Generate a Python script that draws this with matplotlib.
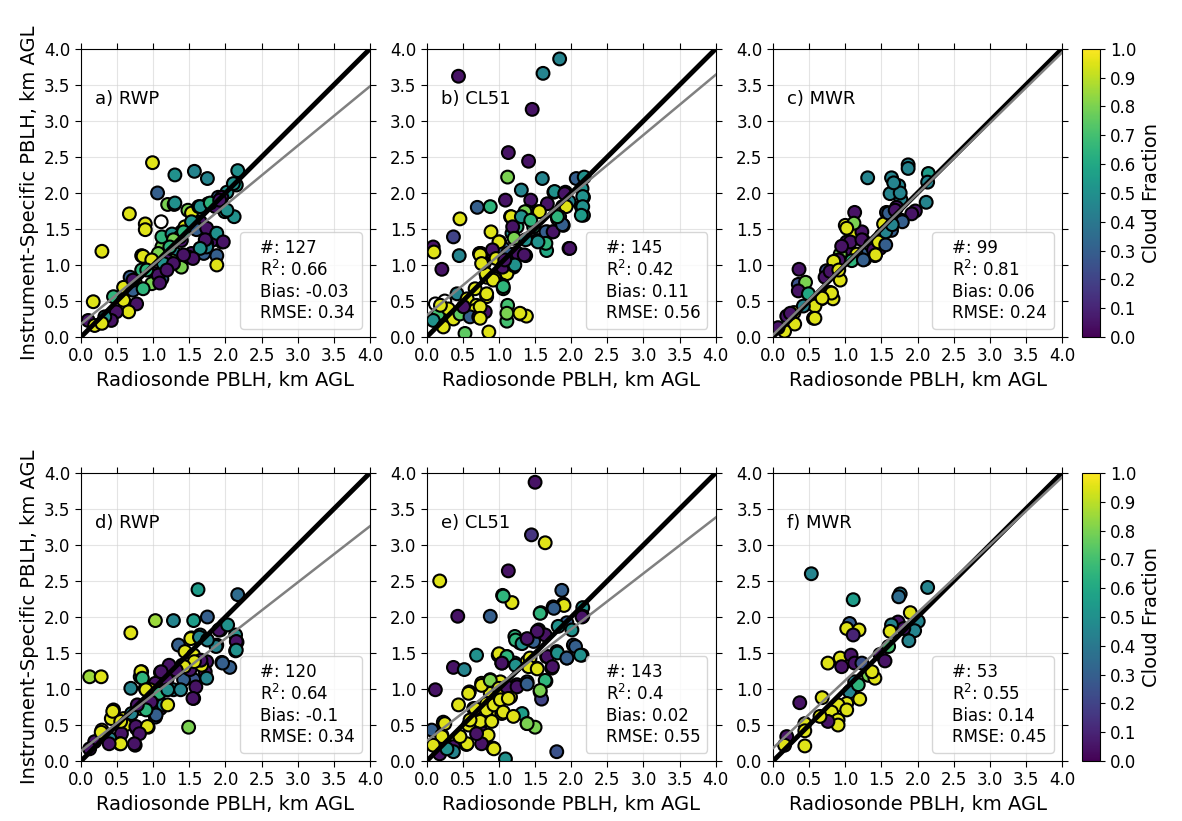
import numpy as np
import matplotlib
matplotlib.use("Agg")
import matplotlib.pyplot as plt
from matplotlib.lines import Line2D

# ---- data (x = radiosonde PBLH, y = instrument PBLH, cf = cloud fraction)
nan = np.nan

a_x = [0.99, 1.30, 1.57, 1.75, 2.17, 2.15, 1.06, 1.20, 1.29, 0.67, 0.89, 0.89, 1.11, 0.29, 1.48, 1.53,
       1.63, 1.76, 1.90, 2.02, 2.11, 2.12, 1.99, 1.86, 1.95, 1.65, 1.58, 1.86, 1.95, 1.81, 1.74, 1.88,
       1.88, 1.65, 1.53, 1.39, 1.27, 1.12, 1.05, 0.84, 1.30, 1.39, 1.44, 1.53, 0.91, 1.03, 1.16, 1.12,
       0.98, 0.84, 0.68, 0.75, 0.59, 0.72, 0.86, 0.45, 0.17, 0.59, 0.77, 0.66, 0.49, 0.42, 0.10, 0.19,
       0.33, 0.29, 1.26, 1.39, 1.49, 1.19, 1.70, 1.74, 1.12, 1.26,
       1.30, 1.65, 1.79, 1.92, 2.02, 1.60, 1.74, 1.88, 1.97, 1.72, 1.65, 1.55, 1.42, 1.37, 1.42, 1.28,
       1.23, 1.07, 0.86, 0.98, 1.14, 1.28, 1.07, 1.19, 0.91, 0.72, 1.09]
a_y = [2.42, 2.25, 2.30, 2.20, 2.31, 2.11, 2.00, 1.84, 1.84, 1.71, 1.57, 1.49, 1.60, 1.19, 1.76, 1.72,
       1.81, 1.85, 1.94, 2.01, 2.13, 1.67, 1.74, 1.81, 1.94, 1.60, 1.53, 1.44, 1.32, 1.34, 1.30, 1.13,
       1.00, 1.23, 1.16, 1.34, 1.37, 1.25, 1.11, 1.13, 1.16, 1.46, 1.53, 1.60, 0.97, 0.88, 0.93, 0.81,
       0.74, 0.93, 0.83, 0.76, 0.69, 0.65, 0.67, 0.56, 0.49, 0.51, 0.46, 0.35, 0.35, 0.23, 0.23, 0.16,
       0.28, 0.19, 1.06, 0.97, 1.11, 1.06, 1.16, 1.25, 1.39, 1.43,
       1.86, 1.81, 1.86, 1.90, 1.76, 1.49, 1.51, 1.44, 1.32, 1.35, 1.23, 1.09, 1.14, 1.39, 1.46, 1.35,
       1.25, 1.16, 1.12, 1.07, 1.02, 1.02, 0.86, 0.93, 0.93, 0.79, 0.75]
a_cf = [0.95, 0.50, 0.45, 0.45, 0.50, 0.55, 0.30, 0.80, 0.45, 0.95, 0.95, 0.95, nan, 0.95, 0.80, 0.95,
        0.45, 0.80, 0.30, 0.50, 0.50, 0.50, 0.50, 0.05, 0.05, 0.05, 0.30, 0.50, 0.05, 0.05, 0.05, 0.30,
        0.95, 0.45, 0.05, 0.05, 0.65, 0.80, 0.95, 0.95, 0.45, 0.65, 0.95, 0.50, 0.95, 0.05, 0.05, 0.30,
        0.80, 0.65, 0.30, 0.95, 0.95, 0.30, 0.65, 0.65, 0.95, 0.95, 0.05, 0.95, 0.05, 0.05, 0.05, 0.95,
        0.50, 0.95, 0.80, 0.80, 0.45, 0.05, 0.30, 0.45, 0.65, 0.50,
        0.50, 0.50, 0.65, 0.05, 0.50, 0.30, 0.05, 0.50, 0.05, 0.05, 0.50, 0.05, 0.05, 0.95, 0.65, 0.80,
        0.65, 0.80, 0.95, 0.95, 0.50, 0.05, 0.05, 0.05, 0.65, 0.05, 0.05]

b_x = [0.44, 1.84, 1.61, 1.46, 1.13, 1.41, 1.12, 1.60, 1.31, 1.09, 0.88, 0.70, 1.44, 0.46, 1.16, 1.55,
       1.67, 1.76, 1.92, 2.07, 2.18, 2.15, 2.17, 2.14, 2.17, 1.97, 1.88, 1.81, 1.89, 1.67, 1.74, 1.48,
       1.39, 1.25, 1.18, 0.37, 0.89, 1.01, 0.09, 0.10, 0.45, 0.73, 0.86, 0.80, 1.06, 1.23, 1.37, 1.53,
       1.63, 1.66, 1.97, 0.21, 1.06, 1.20, 0.97, 1.11, 0.83, 0.67, 1.06, 0.42, 0.56, 0.83, 0.69, 0.67,
       0.81, 1.12, 1.30, 1.38, 1.11, 0.53, 0.86, 0.12, 0.25, 0.16, 0.30, 0.37, 0.09, 0.23, 0.46, 0.60,
       0.51, 0.72, 0.19,
       1.77, 1.91, 2.16, 2.16, 2.14, 1.93, 1.84, 1.56, 1.36, 1.17, 1.31, 1.19, 1.65, 1.75, 1.88, 1.81,
       1.44, 1.00, 1.21, 1.37, 1.65, 1.54, 1.98, 0.75, 0.91, 1.12, 1.26, 1.35, 0.77, 0.96, 1.05, 1.21,
       0.94, 1.05, 0.82, 0.74, 0.76, 0.92, 1.06, 0.83, 0.74, 0.74, 1.11, 1.29, 1.22, 1.08]
b_y = [3.62, 3.86, 3.66, 3.16, 2.56, 2.44, 2.22, 2.20, 2.04, 1.90, 1.81, 1.80, 1.90, 1.64, 1.67, 1.74,
       1.85, 2.01, 2.01, 2.20, 2.22, 2.06, 1.94, 1.81, 1.69, 1.88, 1.81, 1.64, 1.55, 1.46, 1.46, 1.53,
       1.74, 1.53, 1.44, 1.39, 1.46, 1.32, 1.25, 1.18, 1.13, 1.16, 1.13, 1.03, 1.23, 1.16, 1.13, 1.34,
       1.32, 1.20, 1.23, 0.94, 0.95, 0.97, 0.81, 0.88, 0.83, 0.67, 0.67, 0.60, 0.53, 0.56, 0.44, 0.37,
       0.35, 0.44, 0.32, 0.29, 0.22, 0.05, 0.07, 0.46, 0.50, 0.32, 0.39, 0.25, 0.23, 0.14, 0.32, 0.28,
       0.42, 0.28, 0.44,
       2.02, 1.99, 1.95, 1.81, 1.69, 1.81, 1.67, 1.74, 1.74, 1.67, 1.67, 1.53, 1.46, 1.46, 1.56, 1.67,
       1.62, 1.32, 1.37, 1.35, 1.30, 1.32, 1.23, 1.16, 1.21, 1.16, 1.16, 1.14, 1.04, 1.09, 0.97, 0.99,
       0.81, 0.72, 0.88, 1.14, 1.02, 0.79, 0.70, 0.60, 0.42, 0.26, 0.33, 0.33, 1.00, 1.07]
b_cf = [0.05, 0.45, 0.45, 0.05, 0.05, 0.05, 0.80, 0.45, 0.45, 0.05, 0.65, 0.30, 0.05, 0.95, 0.95, 0.95,
        0.05, 0.45, 0.05, 0.30, 0.50, 0.50, 0.50, 0.55, 0.60, 0.45, 0.95, 0.50, 0.30, 0.30, 0.05, 0.65,
        0.65, 0.65, 0.50, 0.20, 0.95, 0.95, 0.05, 0.95, 0.45, 0.95, 0.05, 0.95, 0.30, 0.05, 0.05, 0.30,
        0.45, 0.60, 0.05, 0.05, 0.05, 0.50, 0.95, 0.95, 0.95, 0.95, 0.70, 0.45, 0.95, 0.95, 0.95, 0.95,
        0.05, 0.70, 0.95, 0.95, 0.70, 0.75, 0.95, nan, nan, 0.70, 0.95, 0.95, 0.50, 0.95, 0.75, 0.30,
        0.05, 0.05, 0.95,
        0.50, 0.05, 0.50, 0.50, 0.55, 0.95, 0.45, 0.95, 0.80, 0.95, 0.50, 0.05, 0.30, 0.05, 0.30, 0.65,
        0.65, 0.95, 0.80, 0.50, 0.65, 0.50, 0.05, 0.95, 0.05, 0.30, 0.05, 0.05, 0.95, 0.95, 0.05, 0.50,
        0.95, 0.65, 0.95, 0.95, 0.95, 0.95, 0.65, 0.95, 0.95, 0.95, 0.80, 0.95, 0.50, 0.05]

c_x = [1.87, 1.87, 2.15, 2.14, 1.31, 1.64, 1.74, 1.62, 1.77, 2.12, 1.97, 1.92, 1.71, 1.13, 1.57, 1.69,
       1.78, 1.53, 1.64, 1.00, 1.11, 1.10, 1.23, 1.02, 1.25, 1.04, 1.16, 1.37, 1.41, 1.27, 1.41, 1.48,
       0.93, 0.88, 0.74, 0.83, 0.88, 0.72, 0.93, 0.79, 0.83, 0.67, 0.58, 0.56, 0.36, 0.35, 0.45, 0.35,
       0.49, 0.29, 0.19, 0.30, 0.16, 0.07, 0.42, 1.09, 1.50, 1.32,
       1.12, 1.02, 1.07, 0.95, 1.23, 1.35, 1.39, 1.46, 1.56, 1.42, 1.25, 0.91, 0.84, 0.79, 0.91, 0.81,
       0.68, 0.24, 1.60, 1.69, 1.79, 1.56, 1.65, 1.76, 1.67, 0.58]
c_y = [2.39, 2.34, 2.27, 2.15, 2.21, 2.21, 2.10, 1.99, 1.91, 1.87, 1.75, 1.71, 1.80, 1.73, 1.73, 1.60,
       1.62, 1.57, 1.48, 1.55, 1.55, 1.44, 1.46, 1.32, 1.34, 1.22, 1.15, 1.25, 1.29, 1.08, 1.13, 1.23,
       1.15, 1.06, 0.92, 0.92, 0.99, 0.83, 0.79, 0.62, 0.53, 0.53, 0.43, 0.26, 0.94, 0.73, 0.76, 0.64,
       0.60, 0.34, 0.29, 0.18, 0.08, 0.13, 0.43, 1.06, 1.41, 1.20,
       1.58, 1.51, 1.32, 1.26, 1.35, 1.28, 1.21, 1.32, 1.28, 1.14, 1.07, 1.07, 1.05, 0.91, 0.93, 0.61,
       0.54, 0.33, 1.72, 1.76, 1.60, 1.46, 1.56, 2.00, 2.14, 0.26]
c_cf = [0.45, 0.45, 0.55, 0.45, 0.45, 0.45, 0.45, 0.45, 0.45, 0.45, 0.05, 0.05, 0.05, 0.05, 0.30, 0.30,
        0.30, 0.95, 0.30, 0.95, 0.80, 0.95, 0.05, 0.05, 0.05, 0.05, 0.95, 0.30, 0.80, 0.25, 0.95, 0.05,
        0.80, 0.95, 0.25, 0.95, 0.05, 0.05, 0.95, 0.95, 0.95, 0.95, 0.95, 0.95, 0.05, 0.25, 0.80, 0.05,
        0.60, 0.95, 0.05, 0.95, 0.95, 0.05, 0.45, 0.65, 0.65, 0.30,
        0.80, 0.95, 0.05, 0.05, 0.05, 0.30, 0.05, 0.95, 0.30, 0.95, 0.30, 0.05, 0.95, 0.05, 0.95, 0.95,
        0.95, 0.05, 0.30, 0.05, 0.30, 0.45, 0.45, 0.45, 0.45, 0.95]

d_x = [1.62, 2.17, 1.03, 1.28, 1.56, 1.75, 0.69, 0.12, 0.28, 1.99, 1.93, 2.14, 2.16, 2.14, 1.95, 2.06,
       1.88, 1.65, 1.53, 1.35, 1.44, 1.56, 1.74, 1.72, 1.74, 1.56, 1.42, 1.28, 1.23, 1.40, 1.51, 1.10,
       0.84, 0.82, 1.03, 0.89, 0.69, 1.10, 1.56, 0.93, 0.82, 1.00, 1.10, 1.03, 1.14, 0.45, 0.42, 0.59,
       0.70, 0.61, 0.56, 0.77, 0.93, 0.29, 0.40, 0.54, 0.75, 0.19, 0.12, 1.49, 0.96, 1.19, 1.67,
       1.52, 1.64, 1.91, 2.03, 2.15, 2.15, 1.96, 1.87, 1.75, 1.66, 1.57, 1.43, 1.32, 1.22, 1.11, 0.83,
       0.85, 0.90, 1.08, 1.20, 1.38, 1.59, 1.55, 0.97, 1.04, 1.20, 0.90, 0.78, 0.44, 0.55, 0.76, 0.92,
       0.81, 0.74, 0.55, 0.39, 0.28]
d_y = [2.38, 2.31, 1.95, 1.95, 1.95, 2.00, 1.78, 1.17, 1.17, 1.89, 1.82, 1.75, 1.65, 1.53, 1.37, 1.30,
       1.61, 1.75, 1.71, 1.61, 1.52, 1.47, 1.38, 1.24, 1.15, 1.13, 1.13, 0.99, 1.29, 1.33, 1.27, 1.23,
       1.24, 1.17, 1.08, 1.01, 1.01, 0.96, 0.87, 0.82, 0.73, 0.71, 0.73, 0.61, 0.78, 0.71, 0.59, 0.59,
       0.66, 0.50, 0.38, 0.45, 0.47, 0.43, 0.31, 0.24, 0.22, 0.27, 0.17, 0.47, 0.99, 1.13, 1.33,
       1.70, 1.72, 1.82, 1.89, 1.66, 1.54, 1.36, 1.59, 1.68, 1.40, 1.38, 1.31, 1.26, 1.33, 1.24, 1.24,
       1.15, 0.99, 0.94, 0.99, 0.99, 1.03, 0.87, 0.82, 0.64, 0.78, 0.71, 0.78, 0.69, 0.55, 0.48, 0.48,
       0.38, 0.24, 0.24, 0.24, 0.40]
d_cf = [0.55, 0.35, 0.85, 0.45, 0.55, 0.30, 0.95, 0.85, 0.95, 0.50, 0.05, 0.50, 0.10, 0.50, 0.30, 0.30,
        0.45, 0.45, 0.80, 0.30, 0.95, 0.95, 0.05, 0.05, 0.45, 0.25, 0.30, 0.45, 0.05, 0.95, 0.05, 0.05,
        0.95, 0.80, 0.05, 0.95, 0.45, 0.65, 0.05, 0.05, 0.95, 0.65, 0.05, 0.30, 0.45, 0.95, 0.95, 0.95,
        0.45, 0.95, 0.05, 0.05, 0.95, 0.95, 0.45, 0.95, 0.05, 0.05, 0.05, 0.80, 0.95, 0.05, 0.95,
        0.95, 0.45, 0.05, 0.50, 0.05, 0.50, 0.30, 0.45, 0.45, 0.05, 0.95, 0.95, 0.05, 0.05, 0.05, 0.95,
        0.65, 0.95, 0.65, 0.50, 0.45, 0.05, 0.05, 0.05, 0.30, 0.95, 0.65, 0.05, 0.95, 0.95, 0.05, 0.95,
        0.05, 0.05, 0.95, 0.05, 0.95]

e_x = [1.50, 1.45, 1.64, 0.18, 1.13, 1.05, 1.18, 1.87, 1.89, 1.75, 1.58, 2.16, 0.43, 0.88, 2.16, 1.94,
       1.82, 2.01, 1.55, 1.22, 1.29, 1.48, 1.64, 2.03, 2.15, 1.94, 1.80, 1.66, 1.73, 0.69, 0.99, 1.11,
       1.04, 1.22, 1.39, 1.43, 1.52, 0.37, 0.52, 0.88, 0.76, 1.02, 1.25, 1.39, 1.65, 1.57, 1.59, 0.12,
       0.59, 0.88, 1.09, 1.16, 0.44, 0.65, 0.83, 0.95, 1.04, 1.32, 1.39, 1.50, 0.72, 0.58, 0.76, 0.23,
       0.07, 0.21, 0.46, 0.76, 0.85, 0.76, 0.92, 0.37, 0.55, 0.12, 0.18, 0.37, 1.09, 1.80, 0.28,
       1.06, 1.90, 1.76, 1.57, 2.15, 1.53, 1.23, 1.32, 1.39, 1.00, 1.11, 1.04, 1.23, 1.41, 1.53, 1.67,
       1.74, 1.81, 1.94, 2.06, 2.13, 0.58, 0.76, 0.88, 1.00, 1.11, 1.25, 1.39, 1.64, 1.57, 0.67, 0.83,
       0.93, 1.02, 1.13, 1.06, 1.20, 1.39, 0.74, 0.90, 0.60, 0.25, 0.69, 0.93, 0.56, 0.46, 0.21, 0.09]
e_y = [3.87, 3.14, 3.03, 2.50, 2.64, 2.30, 2.20, 2.37, 2.18, 2.14, 2.06, 2.13, 2.01, 2.01, 2.01, 1.92,
       1.87, 1.82, 1.82, 1.73, 1.64, 1.66, 1.75, 1.61, 1.47, 1.43, 1.52, 1.45, 1.29, 1.47, 1.47, 1.45,
       1.36, 1.36, 1.38, 1.43, 1.29, 1.30, 1.27, 1.13, 1.08, 1.10, 1.06, 1.10, 1.11, 0.96, 0.86, 0.99,
       0.96, 0.94, 0.96, 0.89, 0.78, 0.73, 0.80, 0.71, 0.66, 0.66, 0.52, 0.47, 0.61, 0.50, 0.54, 0.54,
       0.43, 0.36, 0.33, 0.40, 0.36, 0.24, 0.18, 0.20, 0.23, 0.22, 0.10, 0.13, 0.03, 0.13, 0.17,
       2.29, 2.16, 2.12, 2.05, 2.00, 1.80, 1.68, 1.63, 1.70, 1.49, 1.45, 1.36, 1.33, 1.31, 1.28, 1.45,
       1.31, 1.50, 1.43, 1.59, 1.47, 0.94, 1.05, 1.12, 1.01, 1.03, 1.03, 1.07, 1.12, 0.98, 0.73, 0.71,
       0.78, 0.85, 0.87, 0.68, 0.62, 0.52, 0.55, 0.55, 0.57, 0.52, 0.38, 0.17, 0.24, 0.34, 0.34, 0.22]
e_cf = [0.05, 0.15, 0.95, 0.95, 0.05, 0.65, 0.95, 0.30, 0.95, 0.30, 0.65, 0.50, 0.05, 0.30, 0.10, 0.30,
        0.50, 0.50, 0.05, 0.65, 0.50, 0.30, 0.05, 0.30, 0.50, 0.30, 0.50, 0.05, 0.50, 0.50, 0.95, 0.65,
        0.05, 0.50, 0.95, 0.95, 0.95, 0.05, 0.45, 0.80, 0.95, 0.95, 0.05, 0.30, 0.65, 0.95, 0.20, 0.05,
        0.95, 0.95, 0.95, 0.95, 0.95, 0.95, 0.95, 0.95, 0.95, 0.55, 0.65, 0.80, 0.95, 0.95, 0.95, 0.50,
        0.30, 0.95, 0.95, 0.05, 0.95, 0.05, 0.95, 0.05, 0.95, 0.95, 0.05, 0.45, 0.50, 0.25, 0.50,
        0.65, 0.95, 0.30, 0.65, 0.05, 0.05, 0.65, 0.50, 0.05, 0.95, 0.65, 0.05, 0.50, 0.95, 0.95, 0.05,
        0.05, 0.50, 0.30, 0.30, 0.50, 0.95, 0.95, 0.80, 0.95, 0.05, 0.05, 0.30, 0.65, 0.80, 0.95, 0.95,
        0.95, 0.95, 0.95, 0.95, 0.95, 0.80, 0.95, 0.95, 0.95, 0.95, 0.05, 0.95, 0.95, 0.95, 0.95, 0.95]

f_x = [0.53, 2.14, 1.76, 1.74, 1.11, 1.06, 1.02, 1.19, 1.11, 1.90, 1.73, 1.64, 1.62, 2.01, 1.96, 1.88,
       1.81, 0.76, 0.93, 0.95, 1.08, 1.13, 1.23, 1.48, 1.55, 1.60, 1.32, 1.41, 1.37, 1.13, 1.06, 1.20,
       1.02, 0.90, 0.68, 0.37, 0.81, 0.90, 0.90, 0.76, 0.65, 0.44, 0.44, 0.44, 0.19, 0.16, 1.02, 1.18]
f_y = [2.60, 2.41, 2.32, 2.28, 2.24, 1.91, 1.84, 1.82, 1.75, 2.06, 1.93, 1.89, 1.80, 1.94, 1.81, 1.67,
       1.84, 1.36, 1.43, 1.31, 1.47, 1.36, 1.36, 1.48, 1.39, 1.59, 1.19, 1.15, 1.24, 1.10, 0.96, 0.86,
       0.80, 0.78, 0.88, 0.81, 0.68, 0.57, 0.50, 0.55, 0.62, 0.52, 0.42, 0.21, 0.34, 0.22, 0.71, 1.06]
f_cf = [0.45, 0.45, 0.40, 0.35, 0.55, 0.30, 0.95, 0.95, 0.10, 0.95, 0.05, 0.45, 0.95, 0.45, 0.45, 0.45,
        0.05, 0.95, 0.95, 0.05, 0.05, 0.05, 0.25, 0.05, 0.05, 0.70, 0.80, 0.95, 0.95, 0.45, 0.45, 0.95,
        0.95, 0.95, 0.95, 0.05, 0.95, 0.95, 0.95, 0.05, 0.95, 0.95, 0.95, 0.95, 0.05, 0.95, 0.95, 0.65]

panel_titles = ["a) RWP", "b) CL51", "c) MWR", "d) RWP", "e) CL51", "f) MWR"]
n_obs = [127, 145, 99, 120, 143, 53]
r2 = ["0.66", "0.42", "0.81", "0.64", "0.4", "0.55"]
bias = ["-0.03", "0.11", "0.06", "-0.1", "0.02", "0.14"]
rmse = ["0.34", "0.56", "0.24", "0.34", "0.55", "0.45"]
fit_slope = [0.825, 0.835, 0.98, 0.78, 0.775, 0.94]
fit_icpt = [0.18, 0.30, 0.03, 0.14, 0.28, 0.18]

xs = [a_x, b_x, c_x, d_x, e_x, f_x]
ys = [a_y, b_y, c_y, d_y, e_y, f_y]
cfs = [a_cf, b_cf, c_cf, d_cf, e_cf, f_cf]

cmap = plt.get_cmap("viridis").with_extremes(bad="white")

fig = plt.figure(figsize=(11.82, 8.21), dpi=100)

lefts = [0.0685, 0.361, 0.654]
bottoms = [0.5895, 0.0730]
w, h = 0.2445, 0.351

line_x = np.array([0.0, 4.0])
for i in range(6):
    row, col = divmod(i, 3)
    ax = fig.add_axes([lefts[col], bottoms[row], w, h])
    sc = ax.scatter(xs[i], ys[i], c=np.array(cfs[i], dtype=float), cmap=cmap, vmin=0, vmax=1,
                    s=85, edgecolors="black", linewidths=1.5, zorder=2, plotnonfinite=True)
    ax.plot(line_x, line_x, color="black", lw=3.5, zorder=3)
    ax.plot(line_x, fit_icpt[i] + fit_slope[i] * line_x, color="gray", lw=1.8, zorder=4)

    ax.set_xlim(0, 4)
    ax.set_ylim(0, 4)
    ticks = np.arange(0, 4.01, 0.5)
    ax.set_xticks(ticks)
    ax.set_yticks(ticks)
    ax.tick_params(direction="out", top=True, right=True, labelsize=12, length=4)
    ax.grid(True, color="lightgray", alpha=0.6, lw=0.8)
    ax.set_axisbelow(True)
    ax.set_xlabel("Radiosonde PBLH, km AGL", fontsize=14)
    if col == 0:
        ax.set_ylabel("Instrument-Specific PBLH, km AGL", fontsize=14)

    ax.text(0.05, 0.81, panel_titles[i], transform=ax.transAxes, fontsize=13, va="baseline")

    label = f"#: {n_obs[i]}\nR$^2$: {r2[i]}\nBias: {bias[i]}\nRMSE: {rmse[i]}"
    ax.legend([Line2D([], [], ls="none")], [label], loc="lower right", fontsize=12,
              handlelength=0, handletextpad=0.8)

    if col == 2:
        cax = fig.add_axes([0.9154, bottoms[row], 0.0152, h])
        cb = fig.colorbar(sc, cax=cax)
        cb.set_ticks(np.arange(0, 1.01, 0.1))
        cb.ax.tick_params(labelsize=12)
        cb.set_label("Cloud Fraction", fontsize=14)

fig.savefig("out.png", dpi=100)
